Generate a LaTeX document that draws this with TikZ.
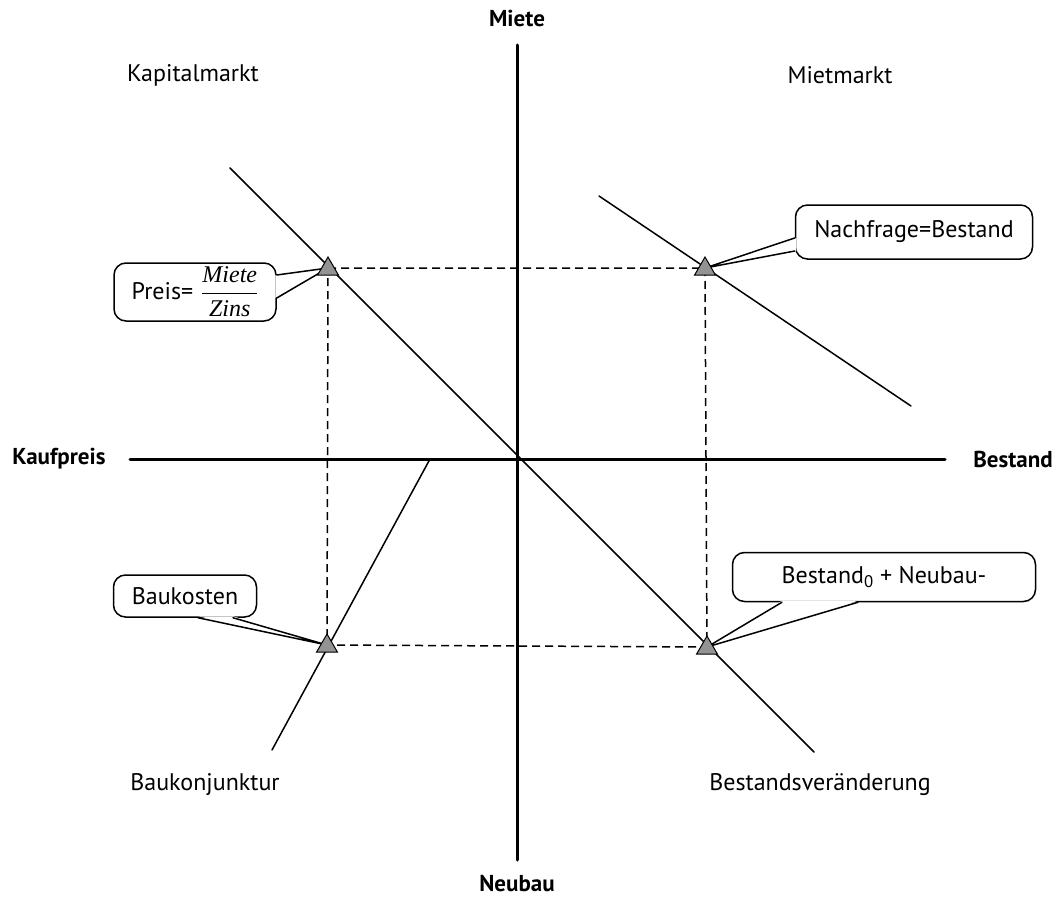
\documentclass[tikz,border=0pt]{standalone}
\usepackage{fontspec}
\setmainfont{PT Sans}
\newfontfamily\bruchfont{Liberation Serif}
\usetikzlibrary{calc}
\usetikzlibrary{shapes.geometric}

\begin{document}
\begin{tikzpicture}[x=1pt,y=-1pt,line cap=round] %% tikz
	\tikzstyle{achse}=[line width=3pt];
	\tikzstyle{kurve}=[line width=1.5pt];
	\tikzstyle{hilfslinie}=[line width=1.5pt,dash pattern=on 8pt off 5pt,line cap=butt];
	\tikzstyle{dreieck}=[regular polygon,regular polygon sides=3,draw,fill=gray!85,line width=1pt,minimum size=24pt,inner sep=0pt];
	\tikzstyle{kasten}=[draw,fill=white,rounded corners=12pt,line width=1.5pt,inner sep=0pt,font=\fontsize{24}{28}\selectfont];
	\tikzstyle{feld}=[font=\fontsize{24}{28}\selectfont];
	\tikzstyle{achsname}=[font=\fontsize{23}{27}\selectfont\bfseries];
	\useasboundingbox (0,0) rectangle (1053,899);
	%% axis
	\node[achsname] (miete) at (517,18) {Miete};
	\node[achsname] (neubau) at (517,884) {Neubau};
	\node[achsname] (kaufpreis) at (59,459) {Kaufpreis};
	\node[achsname] (bestand) at (1013,459) {Bestand};
	\coordinate (oben) at (517,45);
	\coordinate (unten) at (517,860);
	\coordinate (links) at (130,459);
	\coordinate (rechts) at (945,459);
	\draw[achse] (oben) -- (unten);
	\draw[achse] (links) -- (rechts);
	%% quadrants
	\node[feld] (kapital) at (193,75) {Kapitalmarkt};
	\node[feld] (mietmarkt) at (840,75) {Mietmarkt};
	\node[feld] (bauk) at (205,785) {Baukonjunktur};
	\node[feld] (bestandsv) at (820,785) {Bestandsveränderung};
	%% curves
	\coordinate (k1) at (230,168);
	\coordinate (k2) at (814,752);
	\coordinate (m1) at (599,196);
	\coordinate (m2) at (911,406);
	\coordinate (b1) at (430,459);
	\coordinate (b2) at (272,750);
	\draw[kurve] (k1) -- (k2);
	\draw[kurve] (m1) -- (m2);
	\draw[kurve] (b1) -- (b2);
	%% points
	\coordinate (p1) at (328,268);
	\coordinate (p2) at (705,268);
	\coordinate (p3) at (327,645);
	\coordinate (p4) at (707,647);
	\draw[hilfslinie] (p1) -- (p2) -- (p4) -- (p3) -- cycle;
	%% callouts
	\node[kasten,minimum width=162pt,minimum height=58pt] (preis) at (195,292) {Preis=\,\,$\displaystyle\frac{\hbox{\bruchfont\itshape Miete}}{\hbox{\bruchfont\itshape Zins}}$};
	\fill[white] ($(preis.east)+(-1.5,-17)$) -- (p1) -- ($(preis.east)+(-1.5,6)$) -- cycle;
	\draw[line width=1.5pt] ($(preis.east)+(0,-17)$) -- (p1) -- ($(preis.east)+(0,6)$);
	\node[kasten,minimum width=237pt,minimum height=54pt] (nachfrage) at (914,232) {Nachfrage=Bestand};
	\fill[white] ($(nachfrage.west)+(1.5,6)$) -- (p2) -- ($(nachfrage.west)+(1.5,19)$) -- cycle;
	\draw[line width=1.5pt] ($(nachfrage.west)+(0,6)$) -- (p2) -- ($(nachfrage.west)+(0,19)$);
	\node[kasten,minimum width=143pt,minimum height=42pt] (baukosten) at (185,596) {Baukosten};
	\fill[white] ($(baukosten.south)+(13,-1.5)$) -- (p3) -- ($(baukosten.south)+(48,-1.5)$) -- cycle;
	\draw[line width=1.5pt] ($(baukosten.south)+(13,0)$) -- (p3) -- ($(baukosten.south)+(48,0)$);
	\node[kasten,minimum width=303pt,minimum height=49pt] (neubaukasten) at (884,577) {Bestand\textsubscript{0} + Neubau-};
	\fill[white] ($(neubaukasten.south)+(-102,-1.5)$) -- (p4) -- ($(neubaukasten.south)+(-26,-1.5)$) -- cycle;
	\draw[line width=1.5pt] ($(neubaukasten.south)+(-102,0)$) -- (p4) -- ($(neubaukasten.south)+(-26,0)$);
	%% triangles
	\node[dreieck] (t1) at ($(p1)+(0,1)$) {};
	\node[dreieck] (t2) at ($(p2)+(0,1)$) {};
	\node[dreieck] (t3) at ($(p3)+(0,1)$) {};
	\node[dreieck] (t4) at ($(p4)+(0,1)$) {};
\end{tikzpicture}
\end{document}
